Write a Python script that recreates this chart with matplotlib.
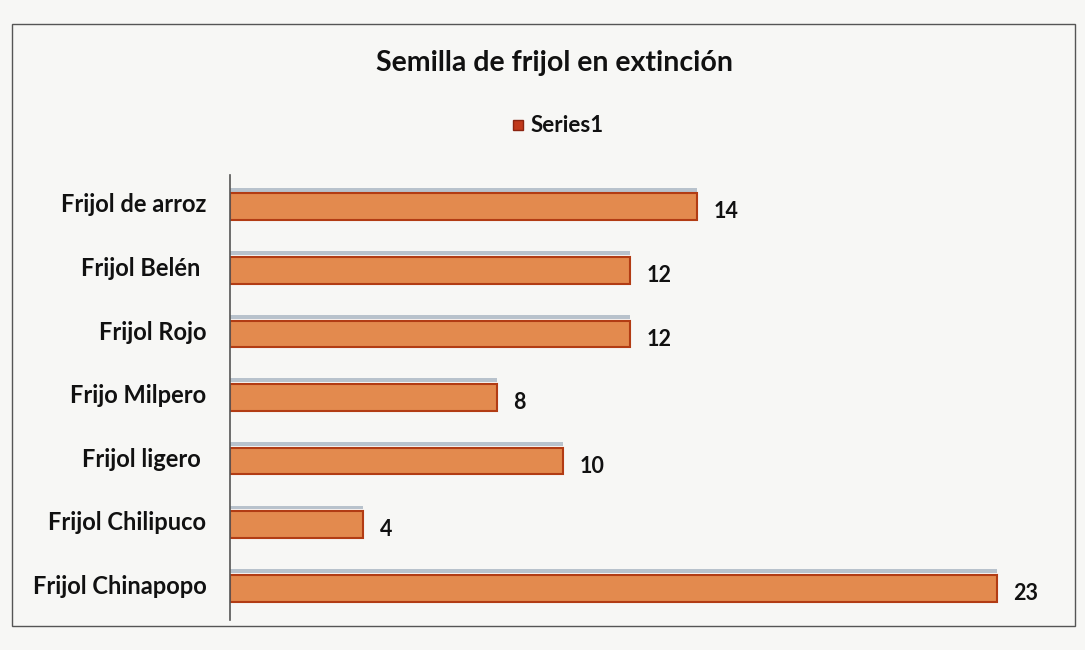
import matplotlib
matplotlib.use("Agg")
import matplotlib.pyplot as plt
from matplotlib.patches import Rectangle

categories = ["Frijol de arroz", "Frijol Belén ", "Frijol Rojo", "Frijo Milpero",
              "Frijol ligero ", "Frijol Chilipuco", "Frijol Chinapopo"]
values = [14, 12, 12, 8, 10, 4, 23]
series_name = "Series1"
title = "Semilla de frijol en extinción"

plt.rcParams['font.family'] = ['Lato', 'DejaVu Sans']

W, H = 1085, 650
fig = plt.figure(figsize=(W / 100, H / 100), dpi=100)
fig.patch.set_facecolor("#f7f7f5")

# chart frame
fig.add_artist(Rectangle((12 / W, 1 - 626 / H), (1075 - 12) / W, (626 - 24) / H,
                         transform=fig.transFigure, fill=False,
                         edgecolor="#555555", linewidth=1.0))

left, right = 230, 1030
top, bottom = 175, 620
ax = fig.add_axes([left / W, 1 - bottom / H, (right - left) / W, (bottom - top) / H])
ax.set_facecolor("none")

ypos = list(range(len(categories)))[::-1]
# shadow (3D-like effect)
ax.barh([y + 0.27 for y in ypos], values, height=0.06, color="#b8c2cc",
        edgecolor="none", zorder=1)
ax.barh(ypos, values, height=0.42, color="#e38a4e", edgecolor="#b23c14",
        linewidth=1.5, zorder=2)

for y, v in zip(ypos, values):
    ax.text(v + 0.5, y - 0.08, str(v), va="center", ha="left", fontsize=15.5,
            color="#111111", fontweight="bold", clip_on=False)

ax.set_xlim(0, 24)
ax.set_ylim(-0.5, len(categories) - 0.5)
ax.set_yticks([y + 0.06 for y in ypos])
ax.set_yticklabels(categories, fontsize=17, color="#111111", fontweight="bold")
ax.tick_params(axis="y", length=0, pad=17)
ax.set_xticks([])
for s in ["top", "right", "bottom"]:
    ax.spines[s].set_visible(False)
ax.spines["left"].set_color("#555555")
ax.spines["left"].set_linewidth(1.2)

fig.text(554 / W, 1 - 63 / H, title, ha="center", va="center", fontsize=20.5,
         fontweight="bold", color="#111111")

# legend
fig.add_artist(Rectangle((513 / W, 1 - 130 / H), 10 / W, 10 / H,
                         transform=fig.transFigure, facecolor="#c0391b",
                         edgecolor="#8b2410"))
fig.text(531 / W, 1 - 125 / H, series_name, ha="left", va="center", fontsize=16,
         color="#111111", fontweight="bold")

fig.savefig("out.png", dpi=100, facecolor=fig.get_facecolor())
